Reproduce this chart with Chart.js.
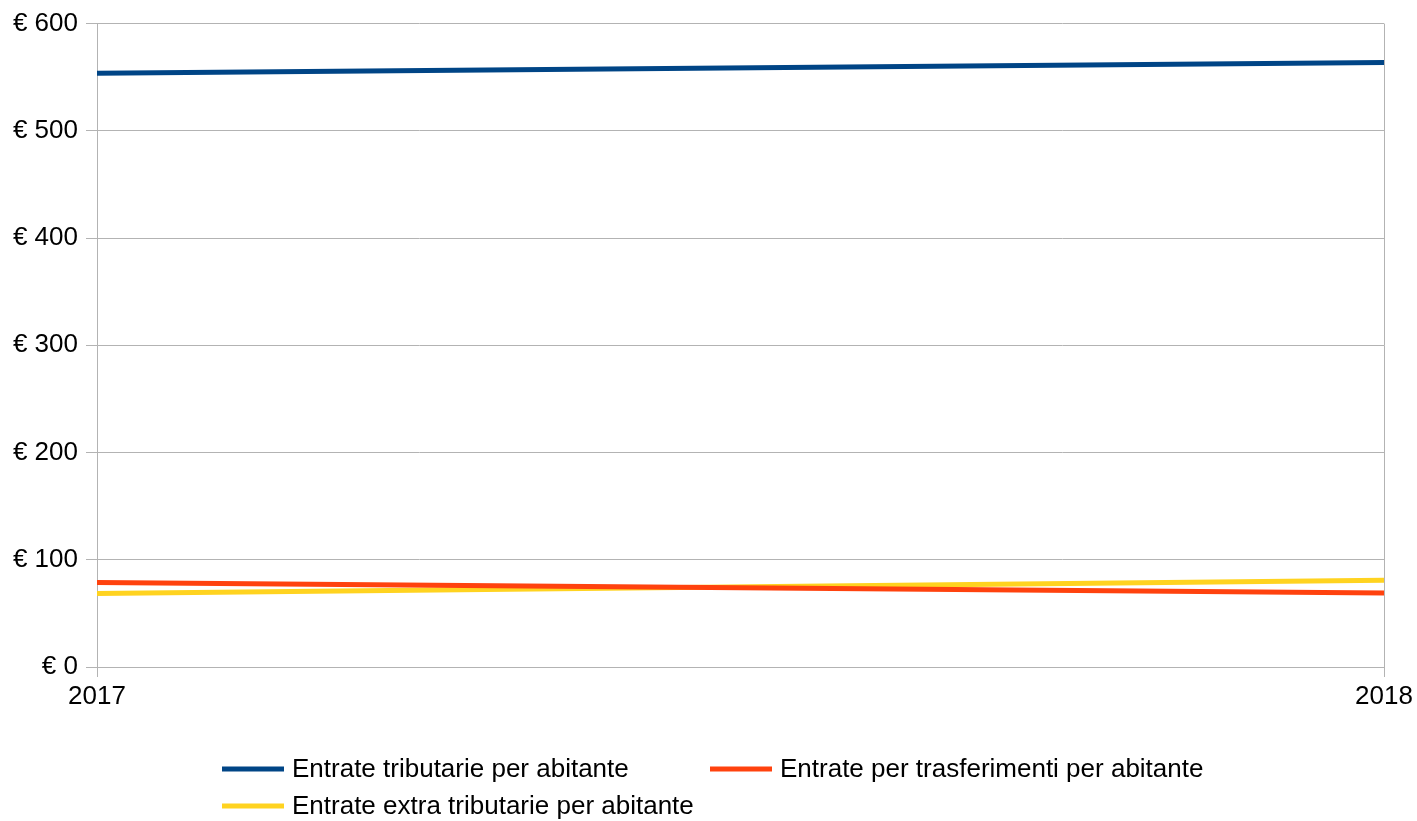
<!DOCTYPE html>
<html>
<head>
<meta charset="utf-8">
<title>Entrate per abitante</title>
<script src="https://cdn.jsdelivr.net/npm/chart.js@4/dist/chart.umd.min.js"></script>
<style>
  html, body { margin: 0; padding: 0; background: #fff; }
  #wrap { width: 1417px; height: 821px; }
</style>
</head>
<body>
<div id="wrap"><canvas id="chart" width="1417" height="821"></canvas></div>
<script>
const years = ["2017", "2018"];
const tributarie = [553.8, 563.7];
const trasferimenti = [78.8, 69.1];
const extraTributarie = [68.5, 80.9];

const seriesNames = [
  "Entrate tributarie per abitante",
  "Entrate per trasferimenti per abitante",
  "Entrate extra tributarie per abitante"
];
const seriesColors = ["#004586", "#ff420e", "#ffd320"];

const FONT = "'Liberation Sans', Arial, sans-serif";

// legend drawn in fixed columns, two per row
const columnLegend = {
  id: "columnLegend",
  afterDraw(chart) {
    const ctx = chart.ctx;
    const startX = 222, colW = 488, rowY = [769, 806];
    ctx.save();
    ctx.font = "26px " + FONT;
    ctx.textBaseline = "middle";
    ctx.fillStyle = "#000";
    chart.data.datasets.forEach((ds, i) => {
      const x = startX + (i % 2) * colW;
      const y = rowY[Math.floor(i / 2)];
      ctx.strokeStyle = ds.borderColor;
      ctx.lineWidth = 5;
      ctx.beginPath();
      ctx.moveTo(x, y);
      ctx.lineTo(x + 62, y);
      ctx.stroke();
      ctx.fillText(ds.label, x + 70, y + 1);
    });
    ctx.restore();
  }
};

const values = [tributarie, trasferimenti, extraTributarie];

new Chart(document.getElementById("chart"), {
  type: "line",
  plugins: [columnLegend],
  data: {
    labels: years,
    datasets: values.map((v, i) => ({
      label: seriesNames[i],
      data: v,
      borderColor: seriesColors[i],
      backgroundColor: seriesColors[i],
      borderWidth: 5,
      pointRadius: 0,
      tension: 0
    }))
  },
  options: {
    responsive: false,
    animation: false,
    layout: { padding: { left: 0, right: 33, top: 20, bottom: 104 } },
    plugins: {
      legend: { display: false },
      tooltip: { enabled: false }
    },
    scales: {
      x: {
        offset: false,
        afterFit(scale) { scale.height = 50; },
        grid: { color: "#b3b3b3", lineWidth: 1, tickLength: 10, drawOnChartArea: true },
        border: { color: "#b3b3b3" },
        ticks: {
          color: "#000",
          font: { family: FONT, size: 26 },
          padding: 4,
          maxRotation: 0,
          autoSkip: false
        }
      },
      y: {
        min: 0,
        max: 600,
        afterFit(scale) { scale.width = 97; },
        grid: { color: "#b3b3b3", lineWidth: 1, tickLength: 11 },
        border: { color: "#b3b3b3" },
        ticks: {
          stepSize: 100,
          color: "#000",
          font: { family: FONT, size: 26 },
          padding: 8,
          callback: (v) => "€ " + v
        }
      }
    }
  }
});
</script>
</body>
</html>
